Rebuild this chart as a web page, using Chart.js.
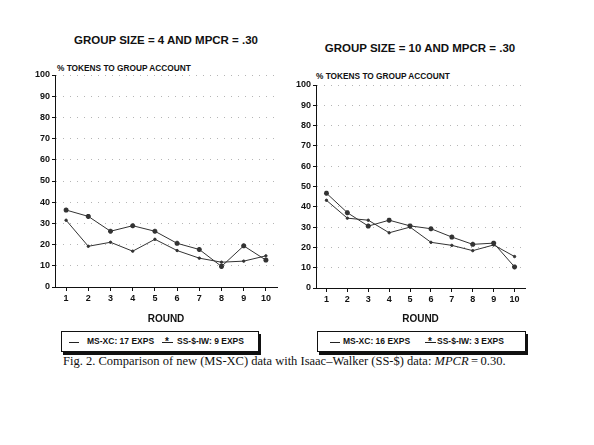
<!DOCTYPE html>
<html>
<head>
<meta charset="utf-8">
<script src="https://cdn.jsdelivr.net/npm/chart.js@4"></script>
<style>
  body { margin: 0; background: #fff; width: 594px; height: 445px; position: relative; overflow: hidden;
         font-family: "Liberation Sans", Arial, sans-serif; color: #111; }
  canvas { position: absolute; }
  .title { position: absolute; font-weight: bold; font-size: 11.5px; white-space: nowrap; transform: translate(-50%, -50%); }
  .ytitle { position: absolute; font-weight: bold; font-size: 8.3px; white-space: nowrap; transform: translateY(-50%); }
  .legend { position: absolute; height: 19px; border: 1px solid #111; box-shadow: 2px 3px 0 #111;
            font-weight: bold; font-size: 8.5px; line-height: 19px; white-space: nowrap; }
  .legend span { position: absolute; top: 0; }
  .sample { position: absolute; top: 10px; height: 0; border-top: 1px solid #222; }
  .star { position: absolute; top: -1px; font-size: 10px; }
  .caption { position: absolute; left: 63px; top: 354px; font-family: "Liberation Serif", "Times New Roman", serif;
             font-size: 12.5px; white-space: nowrap; }
</style>
</head>
<body>

<div class="title" style="left:166px; top:40px;">GROUP SIZE = 4 AND MPCR = .30</div>
<div class="title" style="left:420px; top:48px;">GROUP SIZE = 10 AND MPCR = .30</div>
<div class="ytitle" style="left:57px; top:68px;">% TOKENS TO GROUP ACCOUNT</div>
<div class="ytitle" style="left:316px; top:76px;">% TOKENS TO GROUP ACCOUNT</div>

<canvas id="leftChart" style="left:20px; top:60px;" width="265" height="265"></canvas>
<canvas id="rightChart" style="left:285px; top:60px;" width="250" height="265"></canvas>

<div class="legend" id="leftLegend" style="left:61px; top:331px; width:196px;"></div>
<div class="legend" id="rightLegend" style="left:317px; top:331px; width:207px;"></div>

<div class="caption">Fig. 2. Comparison of new (MS-XC) data with Isaac&ndash;Walker (SS-$) data: <i>MPCR</i>&thinsp;=&thinsp;0.30.</div>

<script>
var rounds = ['1', '2', '3', '4', '5', '6', '7', '8', '9', '10'];

// group size 4
var leftMsXc = [31.5, 19.2, 21.1, 16.9, 22.5, 17.2, 13.6, 11.7, 12.2, 14.7];
var leftSsIw = [36.3, 33.3, 26.3, 28.9, 26.3, 20.6, 17.7, 9.7, 19.4, 12.7];
var leftLabels = ['MS-XC: 17 EXPS', 'SS-$-IW: 9 EXPS'];

// group size 10
var rightMsXc = [43.2, 34.4, 33.4, 27.2, 30.0, 22.5, 21.0, 18.4, 21.2, 15.5];
var rightSsIw = [46.7, 37.1, 30.5, 33.4, 30.6, 29.2, 25.1, 21.5, 22.1, 10.4];
var rightLabels = ['MS-XC: 16 EXPS', 'SS-$-IW: 3 EXPS'];

var yTicks = [0, 10, 20, 30, 40, 50, 60, 70, 80, 90, 100];

var tickFont = { family: '"Liberation Sans", Arial, sans-serif', size: 9, weight: 'bold' };

function makeConfig(msData, ssData, labels, padTop, padRight, yWidth, xHeight) {
    return {
        type: 'line',
        data: {
            labels: rounds,
            datasets: [{
                label: labels[0],
                data: msData,
                borderColor: '#333',
                backgroundColor: '#333',
                borderWidth: 1,
                pointRadius: 1.2,
                pointStyle: 'circle',
                tension: 0
            }, {
                label: labels[1],
                data: ssData,
                borderColor: '#333',
                backgroundColor: '#222',
                borderWidth: 1,
                pointRadius: 2.5,
                pointBorderWidth: 1.6,
                pointStyle: 'star',
                tension: 0
            }]
        },
        options: {
            responsive: false,
            animation: false,
            layout: { padding: { top: padTop, right: padRight, left: 0, bottom: 0 } },
            plugins: {
                legend: { display: false },
                title: { display: false },
                tooltip: { enabled: false }
            },
            scales: {
                x: {
                    offset: true,
                    grid: { display: true, drawOnChartArea: false, color: '#111', tickLength: 4, offset: false },
                    border: { color: '#111', width: 1 },
                    ticks: { color: '#111', font: tickFont, padding: 2, maxRotation: 0 },
                    title: { display: true, text: 'ROUND', color: '#111',
                             font: { family: '"Liberation Sans", Arial, sans-serif', size: 10, weight: 'bold' },
                             padding: { top: 4, bottom: 0 } },
                    afterFit: function(scale) { scale.height = xHeight; }
                },
                y: {
                    min: 0,
                    max: 100,
                    afterBuildTicks: function(scale) {
                        scale.ticks = yTicks.map(function(v) { return { value: v }; });
                    },
                    grid: { color: '#b5b5b5', tickColor: '#111', tickLength: 3, lineWidth: 1 },
                    border: { color: '#111', width: 1, dash: [1, 6] },
                    ticks: { color: '#111', font: tickFont, padding: 2 },
                    afterFit: function(scale) { scale.width = yWidth; }
                }
            }
        }
    };
}

function buildLegend(el, labels, offsets) {
    var html = '';
    html += '<div class="sample" style="left:' + offsets[0] + 'px; width:10px;"></div>';
    html += '<span style="left:' + offsets[1] + 'px;">' + labels[0] + '</span>';
    html += '<div class="sample" style="left:' + offsets[2] + 'px; width:11px;"></div>';
    html += '<span class="star" style="left:' + (offsets[2] + 3) + 'px;">*</span>';
    html += '<span style="left:' + offsets[3] + 'px;">' + labels[1] + '</span>';
    el.innerHTML = html;
}

window.onload = function() {
    var leftCtx = document.getElementById('leftChart').getContext('2d');
    window.leftChart = new Chart(leftCtx, makeConfig(leftMsXc, leftSsIw, leftLabels, 15, 8, 35, 38));

    var rightCtx = document.getElementById('rightChart').getContext('2d');
    window.rightChart = new Chart(rightCtx, makeConfig(rightMsXc, rightSsIw, rightLabels, 25, 10, 31, 37));

    buildLegend(document.getElementById('leftLegend'), leftLabels, [7, 25, 100, 115]);
    buildLegend(document.getElementById('rightLegend'), rightLabels, [12, 25, 107, 119]);
};
</script>
</body>
</html>
